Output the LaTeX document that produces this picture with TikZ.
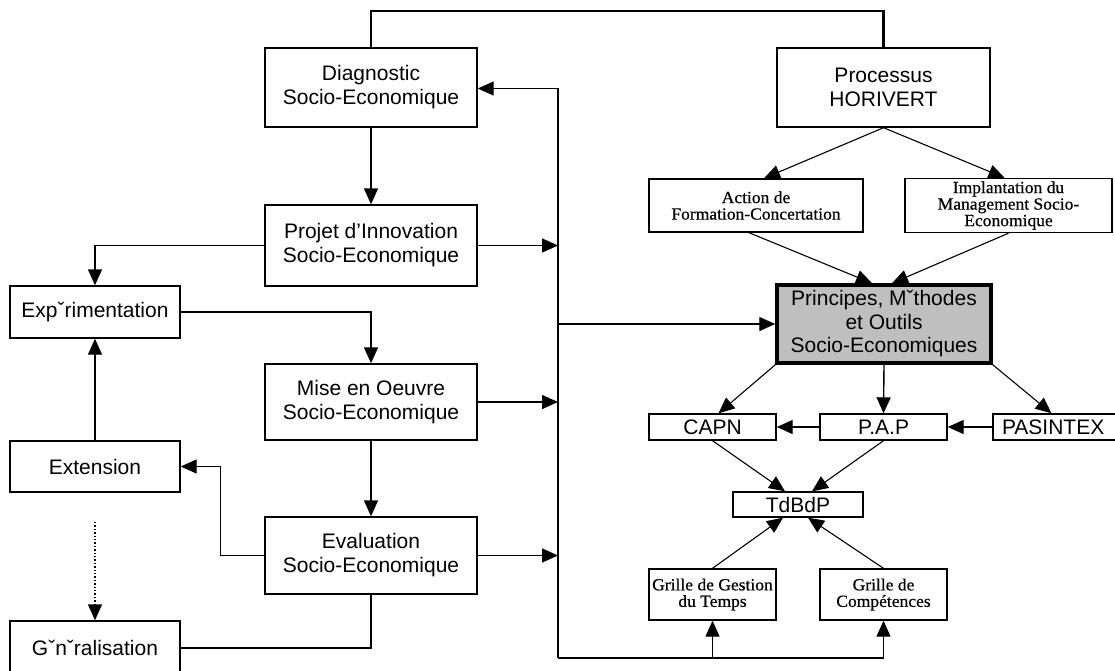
\documentclass[tikz,border=0pt]{standalone}
\usepackage{fontspec}
\setmainfont{Liberation Sans}
\newfontfamily\smallserif[FakeStretch=1.03,FakeBold=0.6]{Liberation Serif}
\usetikzlibrary{arrows.meta}

\tikzset{
  tri/.style={-{Triangle[length=16pt,width=14pt]}},
  box/.style={draw, line width=1.4pt, fill=white, inner sep=0pt, align=center,
    font=\fontsize{21}{24}\selectfont},
  sbox/.style={draw, line width=1.4pt, fill=white, inner sep=0pt, align=center,
    font=\smallserif\fontsize{17}{16.5}\selectfont},
  keybox/.style={draw, line width=3.5pt, fill=black!25, inner sep=0pt, align=center,
    font=\fontsize{21}{23.5}\selectfont},
  link/.style={line width=1.4pt},
  diag/.style={line width=1.1pt},
}

\begin{document}
\begin{tikzpicture}[x=1pt, y=-1pt]
\useasboundingbox (0,0) rectangle (1115,670);

% left column: the socio-economic cycle
\node[box, minimum width=212pt, minimum height=79pt] (diag) at (371,87.5) {Diagnostic\\Socio-Economique};
\node[box, minimum width=212pt, minimum height=81pt] (proj) at (371,245.5) {Projet d'Innovation\\Socio-Economique};
\node[box, minimum width=212pt, minimum height=76pt] (mise) at (371,402) {Mise en Oeuvre\\Socio-Economique};
\node[box, minimum width=212pt, minimum height=77pt] (eval) at (371,555.5) {Evaluation\\Socio-Economique};

% far left: diffusion
\node[box, minimum width=170pt, minimum height=52pt] (exper) at (95,312) {Expˇrimentation};
\node[box, minimum width=170pt, minimum height=51pt] (ext) at (95,466.5) {Extension};
\node[box, minimum width=170pt, minimum height=54pt] (gen) at (95,648) {Gˇnˇralisation};

% right column
\node[box, minimum width=213pt, minimum height=79pt] (proc) at (883.5,87.5) {Processus\\HORIVERT};
\node[sbox, minimum width=214pt, minimum height=53pt] (action) at (756,205.5) {Action de\\Formation-Concertation};
\node[sbox, minimum width=207pt, minimum height=54pt] (impl) at (1008.5,205.5) {Implantation du\\Management Socio-\\Economique};
\node[keybox, minimum width=214pt, minimum height=78pt] (princ) at (884,324) {Principes, Mˇthodes\\et Outils\\Socio-Economiques};

\node[box, minimum width=127pt, minimum height=26pt] (capn) at (712.5,427) {CAPN};
\node[box, minimum width=127pt, minimum height=26pt] (pap) at (883.5,427) {P.A.P};
\node[box, align=left, text width=119pt, inner xsep=9pt, minimum height=26pt] (pasin) at (1061.5,427) {PASINTEX};
\node[box, minimum width=130pt, minimum height=25pt] (tdb) at (798,504.5) {TdBdP};
\node[sbox, minimum width=127pt, minimum height=51pt] (gg) at (712.5,594.5) {Grille de Gestion\\du Temps};
\node[sbox, minimum width=127pt, minimum height=51pt] (gc) at (883.5,594.5) {Grille de\\Compétences};

% feedback bus
\coordinate (bt) at (558,88.5);
\coordinate (bb) at (558,658);
\coordinate (dots) at (95,522);

% top link between the two processes
\draw[line width=2.4pt] (diag.north) -- (371,11) -| (proc.north);

% main cycle
\draw[link, tri] (diag.south) -- (proj.north);
\draw[link, tri] (mise.south) -- (eval.north);
\draw[link, tri] (proj.west) -| (exper.north);
\draw[link, tri] (exper.east) -| (mise.north);
\draw[link, tri] (ext.north) -- (exper.south);
\draw[link, tri] (eval.west) -- ++(-44,0) |- (ext.east);
\draw[link] (eval.south) |- (gen.east);
\draw[link, dotted, tri] (dots) -- (gen.north);

% bus
\draw[link, tri] (bb) -- (bt) -- (bt -| diag.east);
\draw[link, tri] (proj.east) -- (proj.east -| bt);
\draw[link, tri] (mise.east) -- (mise.east -| bt);
\draw[link, tri] (eval.east) -- (eval.east -| bt);
\draw[link, tri] (princ.west -| bt) -- (princ.west);
\draw[link, tri] (bb) -| (gg.south);
\draw[link, tri] (bb) -| (gc.south);

% right-hand links
\draw[diag, tri] (proc.south) -- ([xshift=8pt]action.north);
\draw[diag, tri] (proc.south) -- ([xshift=-4pt]impl.north);
\draw[diag, tri] ([xshift=-7pt]action.south) -- ([xshift=-12pt]princ.north);
\draw[diag, tri] (impl.south) -- ([xshift=8pt]princ.north);
\draw[diag, tri] (princ.south west) -- ([xshift=6pt]capn.north);
\draw[link, tri] (princ.south) -- (pap.north);
\draw[diag, tri] (princ.south east) -- ([xshift=-10pt]pasin.north);
\draw[link, tri] (pasin.west) -- (pap.east);
\draw[link, tri] (pap.west) -- (capn.east);
\draw[diag, tri] (capn.south) -- ([xshift=-13pt]tdb.north);
\draw[diag, tri] (pap.south) -- ([xshift=14pt]tdb.north);
\draw[diag, tri] (gg.north) -- ([xshift=-15pt]tdb.south);
\draw[diag, tri] (gc.north) -- ([xshift=10pt]tdb.south);
\end{tikzpicture}
\end{document}
